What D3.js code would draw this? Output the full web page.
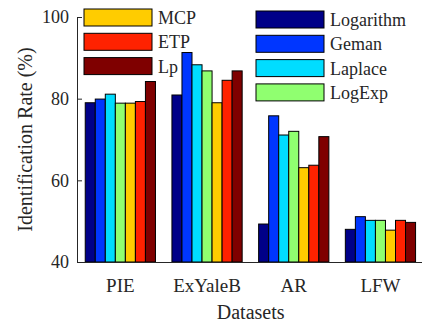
<!DOCTYPE html>
<html>
<head>
<meta charset="utf-8">
<script src="https://cdn.jsdelivr.net/npm/d3@7"></script>
<style>
  body { margin: 0; background: #fff; }
  text { font-family: "Liberation Serif", "DejaVu Serif", serif; fill: #262626; }
</style>
</head>
<body>
<div id="chart"></div>
<script>
const datasets = ['PIE', 'ExYaleB', 'AR', 'LFW'];
const methods = ['Logarithm', 'Geman', 'Laplace', 'LogExp', 'MCP', 'ETP', 'Lp'];
const colors = ['#000088', '#0036ff', '#00ddff', '#90ff70', '#ffcc00', '#ff2200', '#7f0000'];
// one row per dataset, one value per method
const rates = [
  [79.0, 79.9, 81.1, 78.9, 78.9, 79.3, 84.2],
  [80.9, 91.3, 88.3, 86.8, 79.0, 84.5, 86.8],
  [49.3, 75.8, 71.1, 72.0, 63.1, 63.7, 70.7],
  [48.0, 51.1, 50.2, 50.2, 47.8, 50.2, 49.7]
];
const yTicks = [40, 60, 80, 100];

const width = 422, height = 324;
const mLeft = 77, mTop = 17, mBottom = 262;

const svg = d3.select('#chart').append('svg')
  .attr('width', width)
  .attr('height', height);

const x = d3.scaleBand()
  .domain(datasets)
  .range([mLeft, mLeft + 4 * 86.7])
  .paddingInner(0.19)
  .paddingOuter(0.095);

const xm = d3.scaleBand()
  .domain(methods)
  .range([0, x.bandwidth()]);

const y = d3.scaleLinear()
  .domain([40, 100])
  .range([mBottom, mTop]);

const color = d3.scaleOrdinal().domain(methods).range(colors);

// bars
const groups = svg.append('g').selectAll('g')
  .data(datasets)
  .join('g')
  .attr('transform', d => 'translate(' + x(d) + ',0)');

groups.selectAll('rect')
  .data((d, i) => methods.map((m, j) => ({ m: m, v: rates[i][j] })))
  .join('rect')
  .attr('x', d => xm(d.m))
  .attr('width', xm.bandwidth())
  .attr('y', d => y(d.v))
  .attr('height', d => y(40) - y(d.v))
  .attr('fill', d => color(d.m))
  .attr('stroke', '#000')
  .attr('stroke-width', 1);

// axes
const yAxis = svg.append('g')
  .attr('transform', 'translate(' + mLeft + ',0)')
  .call(d3.axisLeft(y).tickValues(yTicks).tickSizeInner(-5).tickSizeOuter(0).tickPadding(8));
yAxis.select('.domain').attr('stroke', '#262626');
yAxis.selectAll('.tick line').attr('stroke', '#262626');
yAxis.selectAll('text')
  .attr('font-size', 18)
  .attr('font-family', '"Liberation Serif", serif')
  .attr('fill', '#262626');

const xAxis = svg.append('g')
  .attr('transform', 'translate(0,' + mBottom + ')')
  .call(d3.axisBottom(x).tickSize(0).tickPadding(17));
xAxis.select('.domain').attr('stroke', '#262626');
xAxis.selectAll('text')
  .attr('font-size', 19)
  .attr('font-family', '"Liberation Serif", serif')
  .attr('fill', '#262626');

// axis titles
svg.append('text')
  .attr('transform', 'translate(32,' + (mTop + mBottom) / 2 + ') rotate(-90)')
  .attr('text-anchor', 'middle')
  .attr('font-size', 20)
  .text('Identification Rate (%)');

svg.append('text')
  .attr('x', x('AR') - 8)
  .attr('y', 319)
  .attr('text-anchor', 'middle')
  .attr('font-size', 20)
  .text('Datasets');

// legends (two columns)
const legendCols = [
  { items: methods.slice(4), x: 84, y: 9 },
  { items: methods.slice(0, 4), x: 256, y: 11 }
];
legendCols.forEach(col => {
  const g = svg.append('g').attr('transform', 'translate(' + col.x + ',' + col.y + ')');
  const row = g.selectAll('g')
    .data(col.items)
    .join('g')
    .attr('transform', (d, i) => 'translate(0,' + i * 24.3 + ')');
  row.append('rect')
    .attr('width', 68)
    .attr('height', 17)
    .attr('fill', d => color(d))
    .attr('stroke', '#000')
    .attr('stroke-width', 1);
  row.append('text')
    .attr('x', 74)
    .attr('y', 15)
    .attr('font-size', 18)
    .text(d => d);
});
</script>
</body>
</html>
